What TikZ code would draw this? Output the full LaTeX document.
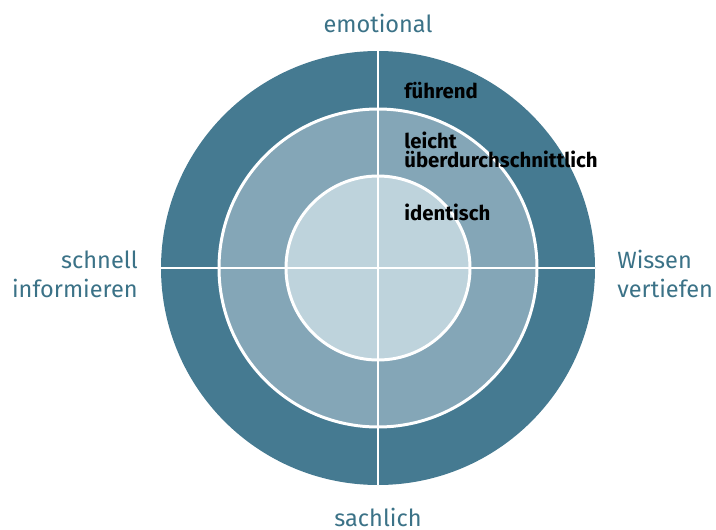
\documentclass[tikz,border=0pt]{standalone}
\usepackage{fontspec}
\setmainfont{Fira Sans}
\usepackage{tikz}
\usetikzlibrary{positioning}

\definecolor{ringout}{HTML}{457A91}
\definecolor{ringmid}{HTML}{84A6B7}
\definecolor{ringin}{HTML}{BED3DC}
\definecolor{labteal}{HTML}{3B7287}

\tikzset{
    axislabel/.style={text=labteal, font=\fontsize{13.4}{16.4}\selectfont, inner sep=0pt},
    levellabel/.style={text=black, font=\bfseries\fontsize{11.6}{11.3}\selectfont, inner sep=0pt, anchor=base west, align=left},
    sep/.style={draw=white, line width=1.7pt}
}

\begin{document}
\begin{tikzpicture}[x=0.02cm,y=-0.02cm]
    \useasboundingbox (0,0) rectangle (716,530);

    \coordinate (c) at (378,268);
    \fill[ringout] (c) circle[radius=217];
    \draw[sep, fill=ringmid] (c) circle[radius=159];
    \draw[sep, fill=ringin] (c) circle[radius=92];

    \coordinate (l) at (161,268);
    \coordinate (r) at (595,268);
    \coordinate (t) at (378,51);
    \coordinate (b) at (378,485);
    \draw[sep] (l) -- (r);
    \draw[sep] (t) -- (b);

    % two-line labels: base anchor sits on the last line
    \node[axislabel, anchor=base] (emo) at (378,33) {emotional};
    \node[axislabel, anchor=base] (sach) at (378,526) {sachlich};
    \node[axislabel, anchor=base east, align=right] (schnell) at (138,297) {schnell\\informieren};
    \node[axislabel, anchor=base west, align=left] (wissen) at (617,297) {Wissen\\vertiefen};

    \node[levellabel] (fuehrend) at (404,99) {führend};
    \node[levellabel] (leicht) at (404,168) {leicht\\überdurchschnittlich};
    \node[levellabel] (ident) at (404,220) {identisch};
\end{tikzpicture}
\end{document}
